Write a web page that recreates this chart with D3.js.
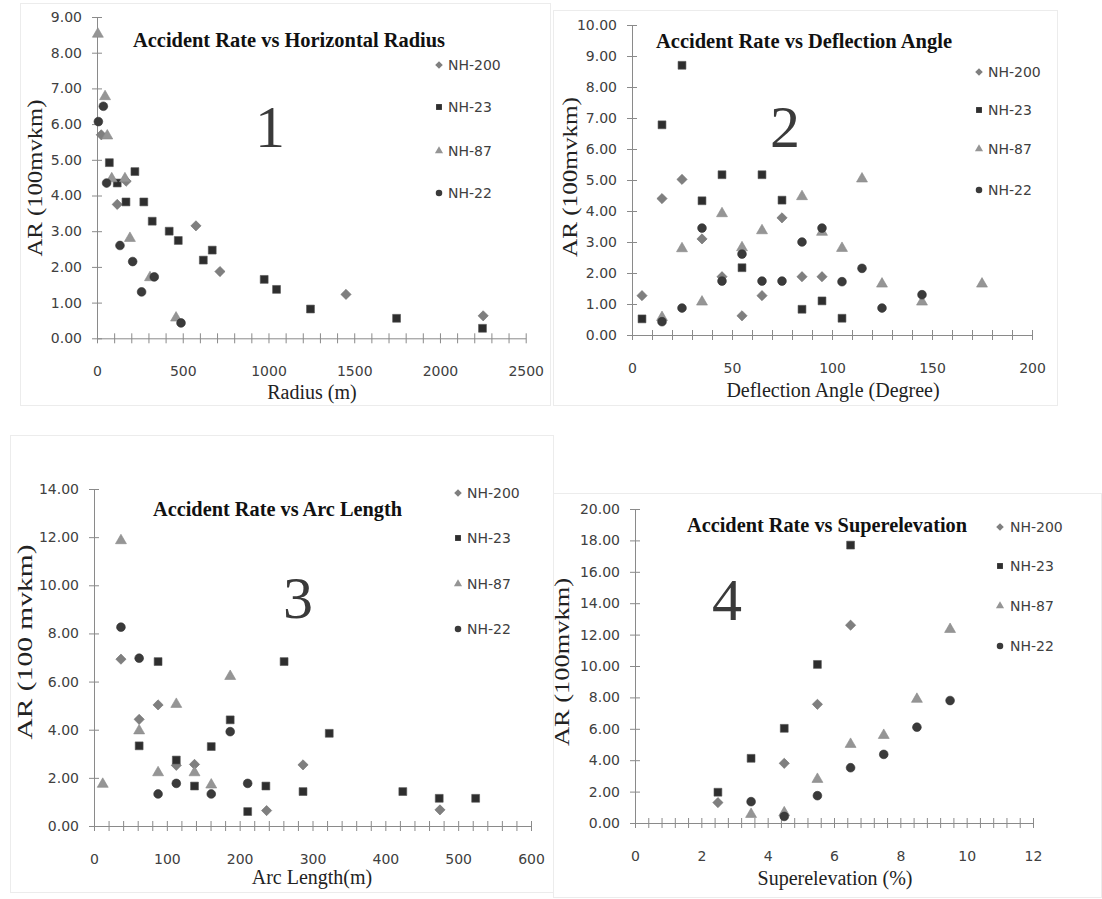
<!DOCTYPE html>
<html><head><meta charset="utf-8">
<script src="https://cdn.jsdelivr.net/npm/d3@7"></script>
<style>body{margin:0;background:#fff} svg{display:block}</style>
</head><body>
<svg id="c" width="1102" height="899"></svg>
<script>
// ---------------- DATA ----------------
const seriesNames = ["NH-200", "NH-23", "NH-87", "NH-22"];

// Panel 1: Accident Rate vs Horizontal Radius  [radius (m), AR]
const radius_NH200 = [[25,5.7],[170,4.4],[118,3.75],[577,3.15],[717,1.87],[1452,1.23],[2252,0.63]];
const radius_NH23  = [[72,4.92],[118,4.35],[169,3.82],[221,4.67],[273,3.82],[322,3.28],[421,3.0],[474,2.74],[620,2.19],[672,2.47],[975,1.65],[1047,1.37],[1245,0.82],[1747,0.56],[2248,0.28]];
const radius_NH87  = [[5,8.55],[47,6.8],[60,5.7],[86,4.5],[163,4.5],[192,2.83],[309,1.73],[461,0.6]];
const radius_NH22  = [[8,6.07],[37,6.5],[56,4.35],[134,2.6],[208,2.15],[260,1.3],[334,1.72],[490,0.43]];

// Panel 2: Accident Rate vs Deflection Angle  [degree, AR]
const angle_NH200 = [[5,1.27],[15,4.4],[25,5.02],[35,3.1],[45,1.88],[55,0.62],[65,1.27],[75,3.78],[85,1.88],[95,1.88]];
const angle_NH23  = [[5,0.52],[15,6.78],[25,8.7],[35,4.33],[45,5.17],[55,2.17],[65,5.17],[75,4.35],[85,0.83],[95,1.1],[105,0.54]];
const angle_NH87  = [[15,0.6],[25,2.82],[35,1.1],[45,3.95],[55,2.85],[65,3.4],[85,4.5],[95,3.35],[105,2.83],[115,5.07],[125,1.68],[145,1.1],[175,1.68]];
const angle_NH22  = [[15,0.43],[25,0.87],[35,3.45],[45,1.74],[55,2.61],[65,1.74],[75,1.74],[85,3.0],[95,3.45],[105,1.72],[115,2.15],[125,0.87],[145,1.3]];

// Panel 3: Accident Rate vs Arc Length  [arc length (m), AR]
const arc_NH200 = [[37,6.93],[62,4.43],[88,5.03],[113,2.52],[138,2.56],[237,0.64],[287,2.54],[475,0.67]];
const arc_NH23  = [[62,3.33],[88,6.83],[113,2.74],[138,1.66],[161,3.3],[187,4.41],[211,0.6],[236,1.66],[261,6.83],[287,1.43],[323,3.85],[424,1.43],[474,1.15],[524,1.15]];
const arc_NH87  = [[12,1.78],[37,11.9],[62,4.0],[88,2.26],[113,5.1],[138,2.26],[161,1.75],[187,6.26]];
const arc_NH22  = [[37,8.26],[62,6.97],[88,1.33],[113,1.77],[161,1.33],[187,3.92],[211,1.77]];

// Panel 4: Accident Rate vs Superelevation  [%, AR]
const super_NH200 = [[2.5,1.3],[4.5,3.8],[5.5,7.56],[6.5,12.6]];
const super_NH23  = [[2.5,1.96],[3.5,4.12],[4.5,6.03],[5.5,10.1],[6.5,17.7]];
const super_NH87  = [[3.5,0.62],[4.5,0.72],[5.5,2.85],[6.5,5.08],[7.5,5.65],[8.5,7.95],[9.5,12.4]];
const super_NH22  = [[3.5,1.36],[4.5,0.42],[5.5,1.74],[6.5,3.52],[7.5,4.37],[8.5,6.1],[9.5,7.8]];

// Axis ticks / labels
const p1_yTicks = [0,1,2,3,4,5,6,7,8,9];
const p1_xLabels = [0,500,1000,1500,2000,2500];
const p2_yTicks = [0,1,2,3,4,5,6,7,8,9,10];
const p2_xLabels = [0,50,100,150,200];
const p3_yTicks = [0,2,4,6,8,10,12,14];
const p3_xLabels = [0,100,200,300,400,500,600];
const p4_yTicks = [0,2,4,6,8,10,12,14,16,18,20];
const p4_xLabels = [0,2,4,6,8,10,12];

const titles = ["Accident Rate vs Horizontal Radius","Accident Rate vs Deflection Angle","Accident Rate vs Arc Length","Accident Rate vs Superelevation"];
const xTitles = ["Radius (m)","Deflection Angle (Degree)","Arc Length(m)","Superelevation (%)"];
const yTitles = ["AR (100mvkm)","AR (100mvkm)","AR (100 mvkm)","AR (100mvkm)"];
const panelNumbers = ["1","2","3","4"];

// ---------------- STYLE ----------------
const svg = d3.select("#c");
const AXIS = "#8a8a8a", TXT = "#404040";
const styles = {
  "NH-200": {sym: d3.symbolSquare, size: 52, rot: 45, fill: "#7f7f7f", stroke: "#707070"},
  "NH-23":  {sym: d3.symbolSquare, size: 62, rot: 0,  fill: "#2e2e2e", stroke: "#555"},
  "NH-87":  {sym: d3.symbolTriangle, size: 52, rot: 0, fill: "#959595", stroke: "#8a8a8a"},
  "NH-22":  {sym: d3.symbolCircle, size: 60, rot: 0, fill: "#3a3a3a", stroke: "#333"}
};

const panels = [
  {data:[radius_NH200,radius_NH23,radius_NH87,radius_NH22], xDomain:[0,2500], xRange:[97,525.7], yDomain:[0,9], yRange:[338.3,17],
   xStep:100, xLabels:p1_xLabels, yTicks:p1_yTicks,
   frame:[20,3,530,402], title:{x0:133,x1:445,y:47}, num:{x:270,y:147}, legend:{mx:439,tx:448,rows:[65,107,151,193]},
   xt:{x:312,y:392}, yt:{x:35,y:178,len:157}},
  {data:[angle_NH200,angle_NH23,angle_NH87,angle_NH22], xDomain:[0,200], xRange:[632,1032], yDomain:[0,10], yRange:[335,25],
   xStep:10, xLabels:p2_xLabels, yTicks:p2_yTicks,
   frame:[553,10,504,395], title:{x0:656,x1:952,y:48}, num:{x:785,y:147}, legend:{mx:979,tx:988,rows:[72,110,149,190]},
   xt:{x:833,y:390}, yt:{x:570,y:177,len:160}},
  {data:[arc_NH200,arc_NH23,arc_NH87,arc_NH22], xDomain:[0,600], xRange:[94,531], yDomain:[0,14], yRange:[826,489],
   xStep:20, xLabels:p3_xLabels, yTicks:p3_yTicks,
   frame:[10,435,543,457], title:{x0:153,x1:402,y:516}, num:{x:298,y:618}, legend:{mx:458,tx:467,rows:[493,538,584,629]},
   xt:{x:312,y:877}, yt:{x:25,y:642,len:195}},
  {data:[super_NH200,super_NH23,super_NH87,super_NH22], xDomain:[0,12], xRange:[635,1033], yDomain:[0,20], yRange:[823,509],
   xStep:0.4, xLabels:p4_xLabels, yTicks:p4_yTicks,
   frame:[553,493,548,404], title:{x0:687,x1:967,y:532}, num:{x:727,y:620}, legend:{mx:1000,tx:1010,rows:[527,566,606,646]},
   xt:{x:835,y:878}, yt:{x:562,y:662,len:168}}
];

function symPath(name, scale) {
  const s = styles[name];
  return d3.symbol().type(s.sym).size(s.size * scale)();
}

panels.forEach((p, i) => {
  const g = svg.append("g");
  const x = d3.scaleLinear().domain(p.xDomain).range(p.xRange);
  const y = d3.scaleLinear().domain(p.yDomain).range(p.yRange);

  // faint frame
  g.append("rect").attr("x", p.frame[0]+0.5).attr("y", p.frame[1]+0.5)
    .attr("width", p.frame[2]).attr("height", p.frame[3])
    .attr("fill", "#fff").attr("stroke", "#ececec").attr("stroke-width", 1);

  // y axis
  const ya = g.append("g").attr("transform", `translate(${p.xRange[0]},0)`)
    .call(d3.axisLeft(y).tickValues(p.yTicks).tickFormat(d3.format(".2f")).tickSizeInner(5).tickSizeOuter(0).tickPadding(10));
  ya.selectAll(".tick line").attr("x1", 5).attr("stroke", AXIS);
  ya.select(".domain").attr("stroke", AXIS);
  ya.selectAll("text").attr("fill", TXT).attr("font-family", "DejaVu Sans").attr("font-size", 14);

  // x axis minor/major ticks
  const nT = Math.round((p.xDomain[1]-p.xDomain[0]) / p.xStep);
  const xt = d3.range(nT + 1).map(k => p.xDomain[0] + k * p.xStep);
  const xa = g.append("g").attr("transform", `translate(0,${p.yRange[0]})`)
    .call(d3.axisBottom(x).tickValues(xt).tickFormat("").tickSizeInner(5).tickSizeOuter(0));
  xa.selectAll(".tick line").attr("y1", -5).attr("stroke", AXIS);
  xa.select(".domain").attr("stroke", AXIS);

  // x labels
  const xl = g.append("g").attr("transform", `translate(0,${p.yRange[0]})`)
    .call(d3.axisBottom(x).tickValues(p.xLabels).tickFormat(d3.format("d")).tickSize(0).tickPadding(28));
  xl.select(".domain").remove();
  xl.selectAll("text").attr("fill", TXT).attr("font-family", "DejaVu Sans").attr("font-size", 14);

  // points
  seriesNames.forEach((name, si) => {
    const st = styles[name];
    g.append("g").selectAll("path").data(p.data[si]).join("path")
      .attr("d", symPath(name, 1))
      .attr("transform", d => `translate(${x(d[0])},${y(d[1]) + (st.sym === d3.symbolTriangle ? 1 : 0)}) rotate(${st.rot})`)
      .attr("fill", st.fill).attr("stroke", st.stroke).attr("stroke-width", 0.6);
  });

  // title
  g.append("text").attr("x", p.title.x0).attr("y", p.title.y)
    .attr("font-family", "Liberation Serif").attr("font-weight", "bold").attr("font-size", 20)
    .attr("fill", "#111").attr("textLength", p.title.x1 - p.title.x0).attr("lengthAdjust", "spacingAndGlyphs")
    .text(titles[i]);

  // panel number
  g.append("text").attr("x", p.num.x).attr("y", p.num.y).attr("text-anchor", "middle")
    .attr("font-family", "Liberation Serif").attr("font-size", 60).attr("fill", "#3a3a3a")
    .text(panelNumbers[i]);

  // axis titles
  g.append("text").attr("x", p.xt.x).attr("y", p.xt.y).attr("dy", "0.35em").attr("text-anchor", "middle")
    .attr("font-family", "Liberation Serif").attr("font-size", 20).attr("fill", "#222")
    .text(xTitles[i]);
  g.append("text").attr("transform", `translate(${p.yt.x},${p.yt.y}) rotate(-90)`).attr("dy", "0.35em")
    .attr("text-anchor", "middle").attr("font-family", "Liberation Serif").attr("font-size", 21).attr("fill", "#222")
    .attr("textLength", p.yt.len).attr("lengthAdjust", "spacingAndGlyphs")
    .text(yTitles[i]);

  // legend
  const lg = g.append("g");
  seriesNames.forEach((name, si) => {
    const st = styles[name];
    const ry = p.legend.rows[si];
    lg.append("path").attr("d", symPath(name, 0.55))
      .attr("transform", `translate(${p.legend.mx},${ry}) rotate(${st.rot})`)
      .attr("fill", st.fill);
    lg.append("text").attr("x", p.legend.tx).attr("y", ry).attr("dy", "0.36em")
      .attr("font-family", "DejaVu Sans").attr("font-size", 14).attr("fill", TXT)
      .text(name);
  });
});
</script>
</body></html>
